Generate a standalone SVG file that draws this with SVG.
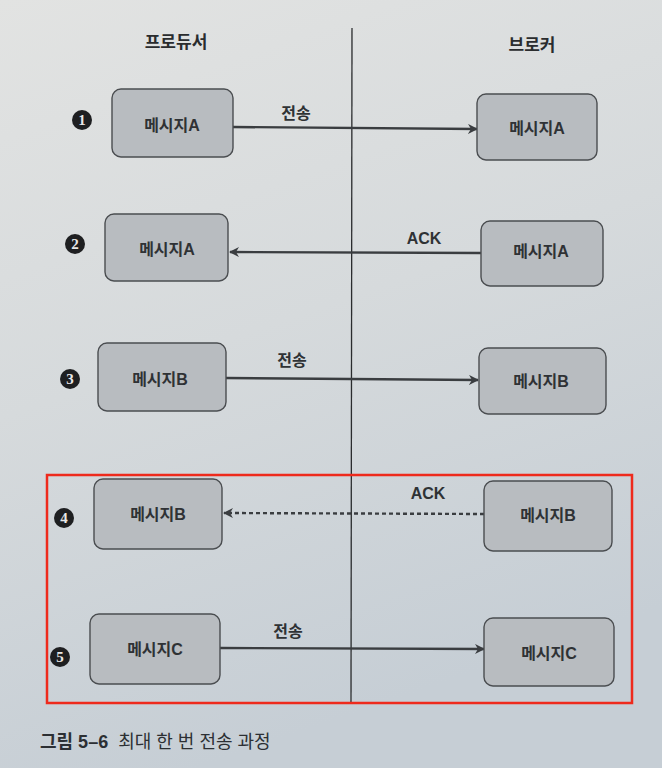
<svg xmlns="http://www.w3.org/2000/svg" width="662" height="768" viewBox="0 0 662 768">
<defs>
<linearGradient id="bg" x1="0" y1="0" x2="0.3" y2="1">
<stop offset="0" stop-color="#e2e3e2"/>
<stop offset="0.5" stop-color="#d6dadc"/>
<stop offset="1" stop-color="#c6ced5"/>
</linearGradient>
<marker id="ah" viewBox="0 0 10 10" refX="9" refY="5" markerWidth="10" markerHeight="10" markerUnits="userSpaceOnUse" orient="auto">
<path d="M0,0 L10,5 L0,10 L3,5 Z" fill="#3a3d40"/>
</marker>
<style>
.box{fill:#b8bcc0;stroke:#4a4d50;stroke-width:1.4}
.lbl{font-family:"Liberation Sans","Noto Sans CJK KR",sans-serif;font-weight:bold;font-size:16px;fill:#2f3235;text-anchor:middle}
.hdr{font-family:"Noto Sans CJK KR",sans-serif;font-weight:bold;font-size:17px;fill:#2a2c2e;text-anchor:middle}
.edge{stroke:#3a3d40;stroke-width:2.4;fill:none}
.dash{stroke-dasharray:4 3}
.num{fill:#1e1f21}
.numt{font-family:"Liberation Serif",serif;font-weight:bold;font-size:15px;fill:#e8e8e8;text-anchor:middle}
.cap{font-family:"Liberation Sans","Noto Sans CJK KR",sans-serif;font-size:18px;fill:#2c2f33}
</style>
</defs>
<rect width="662" height="768" fill="url(#bg)"/>
<g id="headers">
<text class="hdr" x="176" y="48">프로듀서</text>
<text class="hdr" x="532" y="51">브로커</text>
</g>
<line x1="352" y1="28" x2="351" y2="702" stroke="#2a2c2e" stroke-width="1.3"/>
<g id="connectors">
<line class="edge" x1="233" y1="127" x2="477" y2="129" marker-end="url(#ah)"/>
<text class="lbl" x="296" y="119">전송</text>
<line class="edge" x1="481" y1="253" x2="230" y2="252" marker-end="url(#ah)"/>
<text class="lbl" x="424" y="244">ACK</text>
<line class="edge" x1="226" y1="378" x2="478" y2="380" marker-end="url(#ah)"/>
<text class="lbl" x="292" y="366">전송</text>
<line class="edge dash" x1="484" y1="514" x2="224" y2="513" marker-end="url(#ah)"/>
<text class="lbl" x="428" y="499">ACK</text>
<line class="edge" x1="220" y1="648" x2="484" y2="649" marker-end="url(#ah)"/>
<text class="lbl" x="288" y="637">전송</text>
</g>
<g id="p1"><rect class="box" x="112" y="89" width="121" height="68" rx="9"/><text class="lbl" x="172" y="131">메시지A</text></g>
<g id="b1"><rect class="box" x="477" y="94" width="120" height="66" rx="9"/><text class="lbl" x="537" y="134">메시지A</text></g>
<g id="p2"><rect class="box" x="105" y="214" width="123" height="67" rx="9"/><text class="lbl" x="167" y="255">메시지A</text></g>
<g id="b2"><rect class="box" x="481" y="221" width="122" height="65" rx="9"/><text class="lbl" x="541" y="257">메시지A</text></g>
<g id="p3"><rect class="box" x="98" y="343" width="128" height="68" rx="9"/><text class="lbl" x="160" y="385">메시지B</text></g>
<g id="b3"><rect class="box" x="479" y="348" width="127" height="66" rx="9"/><text class="lbl" x="541" y="387">메시지B</text></g>
<g id="p4"><rect class="box" x="94" y="479" width="128" height="70" rx="9"/><text class="lbl" x="158" y="520">메시지B</text></g>
<g id="b4"><rect class="box" x="484" y="481" width="128" height="70" rx="9"/><text class="lbl" x="548" y="521">메시지B</text></g>
<g id="p5"><rect class="box" x="90" y="614" width="130" height="70" rx="9"/><text class="lbl" x="155" y="655">메시지C</text></g>
<g id="b5"><rect class="box" x="484" y="618" width="130" height="68" rx="9"/><text class="lbl" x="549" y="659">메시지C</text></g>
<g id="steps">
<circle class="num" cx="82" cy="120" r="10"/><text class="numt" x="82" y="125">1</text>
<circle class="num" cx="75" cy="244" r="10"/><text class="numt" x="75" y="249">2</text>
<circle class="num" cx="70" cy="379" r="10"/><text class="numt" x="70" y="384">3</text>
<circle class="num" cx="64" cy="518" r="10"/><text class="numt" x="64" y="523">4</text>
<circle class="num" cx="60" cy="657" r="10"/><text class="numt" x="60" y="662">5</text>
</g>
<rect x="47" y="475" width="585" height="228" fill="none" stroke="#ee2a1c" stroke-width="2.5"/>
<text class="cap" x="40" y="748"><tspan font-weight="bold">그림 5–6</tspan><tspan dx="10">최대 한 번 전송 과정</tspan></text>
</svg>
